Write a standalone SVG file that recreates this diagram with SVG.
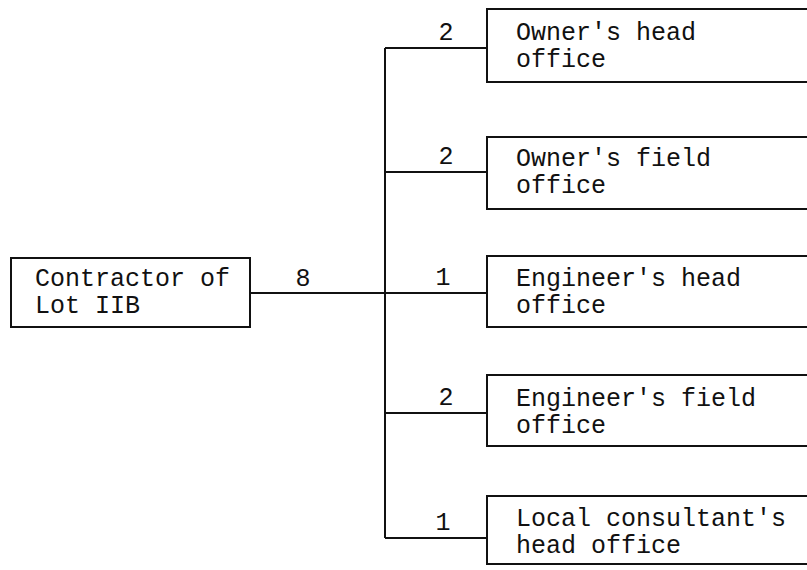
<svg xmlns="http://www.w3.org/2000/svg" width="807" height="570" viewBox="0 0 807 570">
<style>
.box{fill:#fff;stroke:#111;stroke-width:2}
.t{font-family:"Liberation Mono","Courier New",monospace;font-size:25px;fill:#111}
.n{font-family:"Liberation Mono","Courier New",monospace;font-size:25px;fill:#111;text-anchor:middle}
.c{fill:none;stroke:#111;stroke-width:2}
</style>
<rect width="807" height="570" fill="#fff"/>
<g id="connectors">
<path class="c" d="M250,293 H385"/>
<path class="c" d="M385,48 V538"/>
<path class="c" d="M385,48 H487"/>
<path class="c" d="M385,172 H487"/>
<path class="c" d="M385,293 H487"/>
<path class="c" d="M385,413 H487"/>
<path class="c" d="M385,538 H487"/>
<text class="n" x="303" y="286">8</text>
<text class="n" x="446" y="40">2</text>
<text class="n" x="446" y="164">2</text>
<text class="n" x="443" y="285">1</text>
<text class="n" x="446" y="405">2</text>
<text class="n" x="443" y="530">1</text>
</g>
<g id="contractor">
<rect class="box" x="11" y="258" width="239" height="69"/>
<text class="t" x="35" y="286">Contractor of</text>
<text class="t" x="35" y="313">Lot IIB</text>
</g>
<g id="owner-head">
<rect class="box" x="487" y="9" width="340" height="73"/>
<text class="t" x="516" y="40">Owner's head</text>
<text class="t" x="516" y="67">office</text>
</g>
<g id="owner-field">
<rect class="box" x="487" y="137" width="340" height="72"/>
<text class="t" x="516" y="166">Owner's field</text>
<text class="t" x="516" y="193">office</text>
</g>
<g id="engineer-head">
<rect class="box" x="487" y="256" width="340" height="71"/>
<text class="t" x="516" y="286">Engineer's head</text>
<text class="t" x="516" y="313">office</text>
</g>
<g id="engineer-field">
<rect class="box" x="487" y="375" width="340" height="71"/>
<text class="t" x="516" y="406">Engineer's field</text>
<text class="t" x="516" y="433">office</text>
</g>
<g id="local-consultant">
<rect class="box" x="487" y="496" width="340" height="68"/>
<text class="t" x="516" y="526">Local consultant's</text>
<text class="t" x="516" y="553">head office</text>
</g>
</svg>
